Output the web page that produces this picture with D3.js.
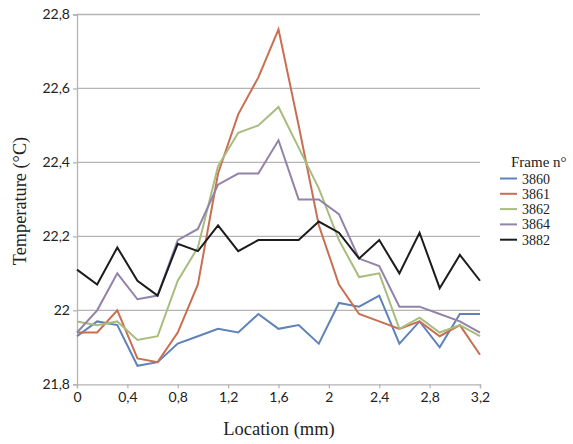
<!DOCTYPE html>
<html><head><meta charset="utf-8">
<script src="https://cdn.jsdelivr.net/npm/d3@7"></script>
<style>body{margin:0;background:#fff}svg{display:block}</style>
</head><body>
<script>
const locations = [0,0.16,0.32,0.48,0.64,0.8,0.96,1.12,1.28,1.44,1.6,1.76,1.92,2.08,2.24,2.4,2.56,2.72,2.88,3.04,3.2];
const seriesNames = ["3860","3861","3862","3864","3882"];
const s3860 = [21.93,21.97,21.96,21.85,21.86,21.91,21.93,21.95,21.94,21.99,21.95,21.96,21.91,22.02,22.01,22.04,21.91,21.97,21.90,21.99,21.99];
const s3861 = [21.94,21.94,22.00,21.87,21.86,21.94,22.07,22.37,22.53,22.63,22.76,22.50,22.23,22.07,21.99,21.97,21.95,21.97,21.93,21.96,21.88];
const s3862 = [21.97,21.96,21.97,21.92,21.93,22.08,22.17,22.39,22.48,22.50,22.55,22.44,22.33,22.19,22.09,22.10,21.95,21.98,21.94,21.96,21.93];
const s3864 = [21.94,22.00,22.10,22.03,22.04,22.19,22.22,22.34,22.37,22.37,22.46,22.30,22.30,22.26,22.14,22.12,22.01,22.01,21.99,21.97,21.94];
const s3882 = [22.11,22.07,22.17,22.08,22.04,22.18,22.16,22.23,22.16,22.19,22.19,22.19,22.24,22.21,22.14,22.19,22.10,22.21,22.06,22.15,22.08];
const xTicks = [0,0.4,0.8,1.2,1.6,2,2.4,2.8,3.2];
const yTicks = [21.8,22,22.2,22.4,22.6,22.8];
const colors = ["#5f82b8","#c86f52","#a8bc7e","#9284a8","#1c1c1c"];

const allSeries = [s3860,s3861,s3862,s3864,s3882];
const W=573,H=444;
const svg=d3.select("body").append("svg").attr("width",W).attr("height",H);
const x=d3.scaleLinear().domain([0,3.2]).range([77,480]);
const y=d3.scaleLinear().domain([21.8,22.8]).range([384.3,14.5]);
const fmt=d=>String(+d.toFixed(1)).replace(".",",");
const tickFont="Lato, 'Open Sans', sans-serif";
const serif="'Liberation Serif','DejaVu Serif',serif";

// gridlines
svg.append("g").selectAll("line").data(yTicks.slice(1)).join("line")
  .attr("x1",77).attr("x2",480).attr("y1",d=>y(d)).attr("y2",d=>y(d))
  .attr("stroke","#b4b4b4").attr("stroke-width",1.3);

// axes
const yAxis=svg.append("g").attr("transform","translate(77,0)")
  .call(d3.axisLeft(y).tickValues(yTicks).tickFormat(fmt).tickSize(4).tickPadding(3));
const xAxis=svg.append("g").attr("transform","translate(0,384.3)")
  .call(d3.axisBottom(x).tickValues(xTicks).tickFormat(fmt).tickSize(4).tickPadding(4));
[yAxis,xAxis].forEach(g=>{
  g.select(".domain").attr("stroke","#b4b4b4").attr("stroke-width",1.3);
  g.selectAll(".tick line").attr("stroke","#b4b4b4").attr("stroke-width",1.3);
  g.selectAll("text").attr("font-family",tickFont).attr("font-size",14).attr("fill","#222");
});

// lines
const line=d3.line().x((d,i)=>x(locations[i])).y(d=>y(d));
svg.append("g").selectAll("path").data(allSeries).join("path")
  .attr("d",line).attr("fill","none")
  .attr("stroke",(d,i)=>colors[i]).attr("stroke-width",2).attr("stroke-linejoin","miter");

// titles
svg.append("text").attr("x",279).attr("y",435).attr("text-anchor","middle")
  .attr("font-family",serif).attr("font-size",18.5).attr("fill","#222").text("Location (mm)");
svg.append("text").attr("transform","translate(26,201) rotate(-90)").attr("text-anchor","middle")
  .attr("font-family",serif).attr("font-size",18.3).attr("fill","#222").text("Temperature (°C)");

// legend
const lg=svg.append("g");
lg.append("text").attr("x",511).attr("y",167).attr("font-family",serif).attr("font-size",15)
  .attr("fill","#222").text("Frame n°");
const items=lg.selectAll("g.item").data(seriesNames).join("g").attr("class","item")
  .attr("transform",(d,i)=>`translate(0,${178.5+i*15.3})`);
items.append("line").attr("x1",500).attr("x2",517).attr("stroke",(d,i)=>colors[i]).attr("stroke-width",2);
items.append("text").attr("x",522).attr("y",5).attr("font-family",serif).attr("font-size",14)
  .attr("fill","#222").text(d=>d);
</script>
</body></html>
